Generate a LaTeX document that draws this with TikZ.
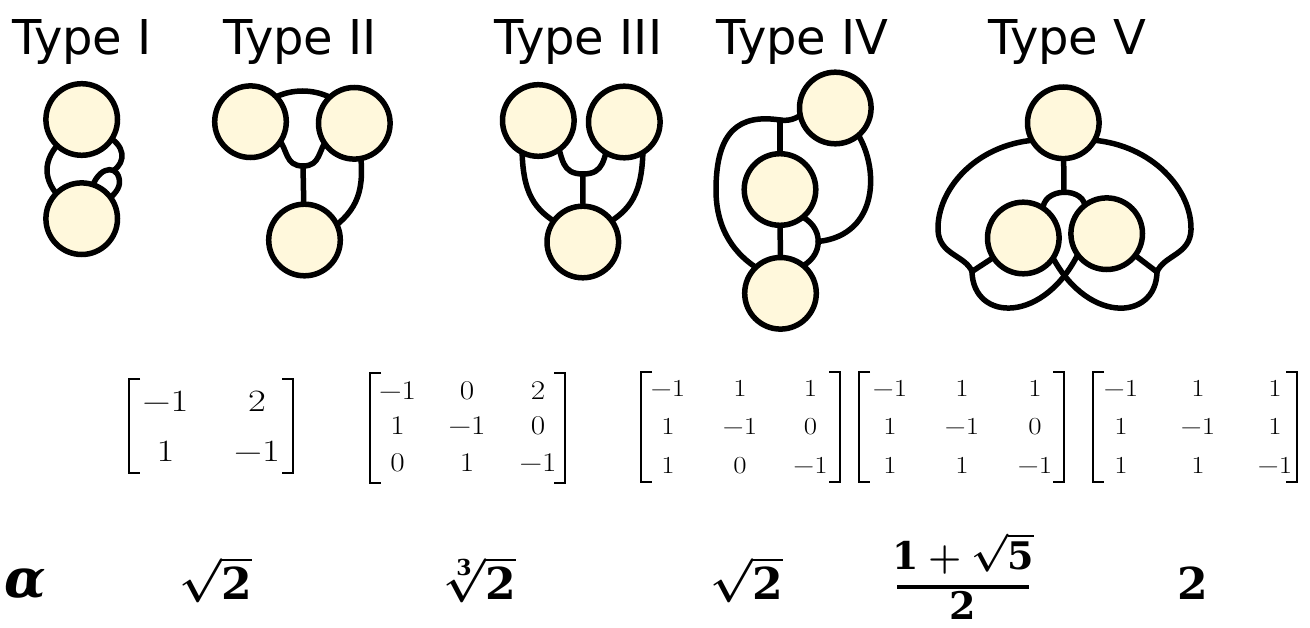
\RequirePackage{fix-cm}
\documentclass[tikz,border=0pt]{standalone}
\usepackage{fontspec}
\usepackage{amsmath}
\usepackage{graphicx}
\newfontfamily\titlefont{DejaVu Sans}
\newfontfamily\djs{DejaVu Serif}
\definecolor{cream}{RGB}{255,248,220}
\newcommand\mxA[1]{\scalebox{1.25}[1]{#1}}
\newcommand\mxB[1]{\scalebox{1.16}[1]{#1}}
\newcommand\mxC[1]{\scalebox{1.18}[1]{#1}}
\newcommand\bdg[1]{\text{\djs\bfseries #1}}
\pgfdeclarelayer{bgw}
\pgfdeclarelayer{edges}
\pgfsetlayers{bgw,edges,main}
\begin{document}
\begin{tikzpicture}[x=1pt,y=-1pt,
  vtx/.style={circle,draw=black,fill=cream,line width=5.5pt,minimum size=71.6pt,inner sep=0pt},
  edge/.style={line width=5.5pt,line cap=round,line join=round},
  ttl/.style={font=\titlefont\fontsize{48}{48}\selectfont,anchor=base west,inner sep=0pt},
  mA/.style={font=\fontsize{31}{31}\selectfont,anchor=base,inner sep=0pt},
  mB/.style={font=\fontsize{27}{27}\selectfont,anchor=base,inner sep=0pt},
  mC/.style={font=\fontsize{24.5}{24.5}\selectfont,anchor=base,inner sep=0pt},
  brk/.style={line width=2.2pt},
  val/.style={font=\fontsize{44}{44}\selectfont\boldmath,anchor=base west,inner sep=0pt},
  fr/.style={font=\fontsize{38}{38}\selectfont\boldmath,anchor=base,inner sep=0pt},
]
\begin{pgfonlayer}{bgw}
\fill[white] (0,0) rectangle (1310,628);
\end{pgfonlayer}
\useasboundingbox (0,0) rectangle (1310,628);

% titles
\node[ttl] (ty1) at (12,55) {Type I};
\node[ttl] (ty2) at (223,55) {Type II};
\node[ttl] (ty3) at (494,55) {Type III};
\node[ttl] (ty4) at (716,55) {Type IV};
\node[ttl] (ty5) at (988,55) {Type V};

% vertices
\node[vtx] (t1a) at (81.7,119.5) {};
\node[vtx] (t1b) at (81.7,218.7) {};
\node[vtx] (t2a) at (250.5,121.7) {};
\node[vtx] (t2b) at (354.3,123.3) {};
\node[vtx] (t2c) at (304.5,240) {};
\node[vtx] (t3a) at (538.3,120.5) {};
\node[vtx] (t3b) at (624.3,122) {};
\node[vtx] (t3c) at (582.8,242) {};
\node[vtx] (t4a) at (835.3,108) {};
\node[vtx] (t4b) at (780,189.5) {};
\node[vtx] (t4c) at (780.5,293.3) {};
\node[vtx] (t5a) at (1063.3,122.8) {};
\node[vtx] (t5b) at (1023.3,238) {};
\node[vtx] (t5c) at (1106.7,233.7) {};

\begin{pgfonlayer}{edges}
% Type I
\coordinate (j1) at (113.5,170.5);
\draw[edge] (62,140) .. controls (42,160) and (42,180) .. (62,200);
\draw[edge] (105,135) .. controls (126,145) and (126,162) .. (j1);
\draw[edge] (90,195) .. controls (95,168) and (115,163) .. (119,178) .. controls (121,186) and (117,192) .. (108,200);
% Type II
\coordinate (j2) at (303,166);
\draw[edge] (270,100) .. controls (290,88) and (315,88) .. (335,100);
\draw[edge] (278,138) .. controls (288,150) and (285,166) .. (j2) .. controls (321,166) and (318,150) .. (328,138);
\draw[edge] (j2) -- (t2c);
\draw[edge] (360,150) .. controls (365,190) and (358,210) .. (330,230);
% Type III
\coordinate (j3) at (583,174);
\draw[edge] (556,140) .. controls (563,158) and (561,174) .. (j3) .. controls (605,174) and (603,158) .. (610,140);
\draw[edge] (j3) -- (t3c);
\draw[edge] (522,145) .. controls (522,195) and (535,210) .. (560,225);
\draw[edge] (643,145) .. controls (643,195) and (630,210) .. (605,225);
% Type IV
\coordinate (j4) at (780,120);
\coordinate (j4b) at (818.25,241.5);
\draw[edge] (805,112) .. controls (795,120) and (788,121) .. (j4) .. controls (740,114) and (716,130) .. (716,190) .. controls (716,230) and (735,255) .. (760,270);
\draw[edge] (j4) -- (t4b);
\draw[edge] (t4b) -- (t4c);
\draw[edge] (798,215) .. controls (825,225) and (825,258) .. (798,268);
\draw[edge] (855,130) .. controls (880,165) and (880,235) .. (j4b);
% Type V
\coordinate (j5) at (1064,192);
\coordinate (lj) at (972,271.5);
\coordinate (rj) at (1157,272);
\draw[edge] (t5a) -- (j5);
\draw[edge] (1043,212) .. controls (1040,186) and (1088,186) .. (1085,210);
\draw[edge] (1035,140) .. controls (975,145) and (937,190) .. (938,230) .. controls (939,255) and (965,255) .. (lj);
\draw[edge] (1092,140) .. controls (1153,145) and (1192,190) .. (1191,230) .. controls (1190,255) and (1164,255) .. (rj);
\draw[edge] (t5b) -- (lj);
\draw[edge] (t5c) -- (rj);
\draw[edge] (lj) .. controls (973,322) and (1045,325) .. (1080,250);
\draw[edge] (rj) .. controls (1156,322) and (1084,325) .. (1049,250);
\end{pgfonlayer}

% matrix 1
\draw[brk] (140,378.7) -- (129.3,378.7) -- (129.3,473) -- (140,473);
\draw[brk] (282,378.7) -- (292.7,378.7) -- (292.7,473) -- (282,473);
\node[mA] (a11) at (165.5,411) {\mxA{−1}};
\node[mA] (a12) at (257,411) {\mxA{2}};
\node[mA] (a21) at (165.5,461) {\mxA{1}};
\node[mA] (a22) at (257,461) {\mxA{−1}};
% matrix 2
\draw[brk] (381,372.7) -- (370,372.7) -- (370,482.7) -- (381,482.7);
\draw[brk] (554,372.7) -- (565,372.7) -- (565,482.7) -- (554,482.7);
\node[mB] (b11) at (397.5,399.3) {\mxB{−1}};
\node[mB] (b12) at (467,399.3) {\mxB{0}};
\node[mB] (b13) at (538,399.3) {\mxB{2}};
\node[mB] (b21) at (397.5,434.3) {\mxB{1}};
\node[mB] (b22) at (467,434.3) {\mxB{−1}};
\node[mB] (b23) at (538,434.3) {\mxB{0}};
\node[mB] (b31) at (397.5,471) {\mxB{0}};
\node[mB] (b32) at (467,471) {\mxB{1}};
\node[mB] (b33) at (538,471) {\mxB{−1}};
% matrix 3
\draw[brk] (652,372) -- (641,372) -- (641,482) -- (652,482);
\draw[brk] (829,372) -- (840,372) -- (840,482) -- (829,482);
\node[mC] (c11) at (668,397) {\mxC{−1}};
\node[mC] (c12) at (740,397) {\mxC{1}};
\node[mC] (c13) at (810.5,397) {\mxC{1}};
\node[mC] (c21) at (668,435) {\mxC{1}};
\node[mC] (c22) at (740,435) {\mxC{−1}};
\node[mC] (c23) at (810.5,435) {\mxC{0}};
\node[mC] (c31) at (668,473) {\mxC{1}};
\node[mC] (c32) at (740,473) {\mxC{0}};
\node[mC] (c33) at (810.5,473) {\mxC{−1}};
% matrix 4
\draw[brk] (870,372) -- (859,372) -- (859,482) -- (870,482);
\draw[brk] (1053,372) -- (1064,372) -- (1064,482) -- (1053,482);
\node[mC] (d11) at (890,397) {\mxC{−1}};
\node[mC] (d12) at (962,397) {\mxC{1}};
\node[mC] (d13) at (1035,397) {\mxC{1}};
\node[mC] (d21) at (890,435) {\mxC{1}};
\node[mC] (d22) at (962,435) {\mxC{−1}};
\node[mC] (d23) at (1035,435) {\mxC{0}};
\node[mC] (d31) at (890,473) {\mxC{1}};
\node[mC] (d32) at (962,473) {\mxC{1}};
\node[mC] (d33) at (1035,473) {\mxC{−1}};
% matrix 5
\draw[brk] (1104,372) -- (1093,372) -- (1093,482) -- (1104,482);
\draw[brk] (1286,372) -- (1297,372) -- (1297,482) -- (1286,482);
\node[mC] (e11) at (1121,397) {\mxC{−1}};
\node[mC] (e12) at (1198,397) {\mxC{1}};
\node[mC] (e13) at (1275,397) {\mxC{1}};
\node[mC] (e21) at (1121,435) {\mxC{1}};
\node[mC] (e22) at (1198,435) {\mxC{−1}};
\node[mC] (e23) at (1275,435) {\mxC{1}};
\node[mC] (e31) at (1121,473) {\mxC{1}};
\node[mC] (e32) at (1198,473) {\mxC{1}};
\node[mC] (e33) at (1275,473) {\mxC{−1}};

% growth rates
\node[anchor=base west,inner sep=0pt,font=\djs\bfseries\itshape\fontsize{54}{54}\selectfont] (alpha) at (4,597) {α};
\node[val] (g1) at (179,599) {$\sqrt{\bdg{2}}$};
\node[val] (g2) at (442,599) {$\sqrt[\bdg{3}]{\bdg{2}}$};
\node[val] (g3) at (710,599) {$\sqrt{\bdg{2}}$};
\node[fr] (g4n) at (963,569) {$\bdg{1}+\sqrt{\bdg{5}}$};
\draw[line width=3.5pt] (897,587) -- (1029,587);
\node[fr] (g4d) at (963,619) {\djs\bfseries 2};
\node[val] (g5) at (1177,599) {\djs\bfseries 2};
\end{tikzpicture}
\end{document}
